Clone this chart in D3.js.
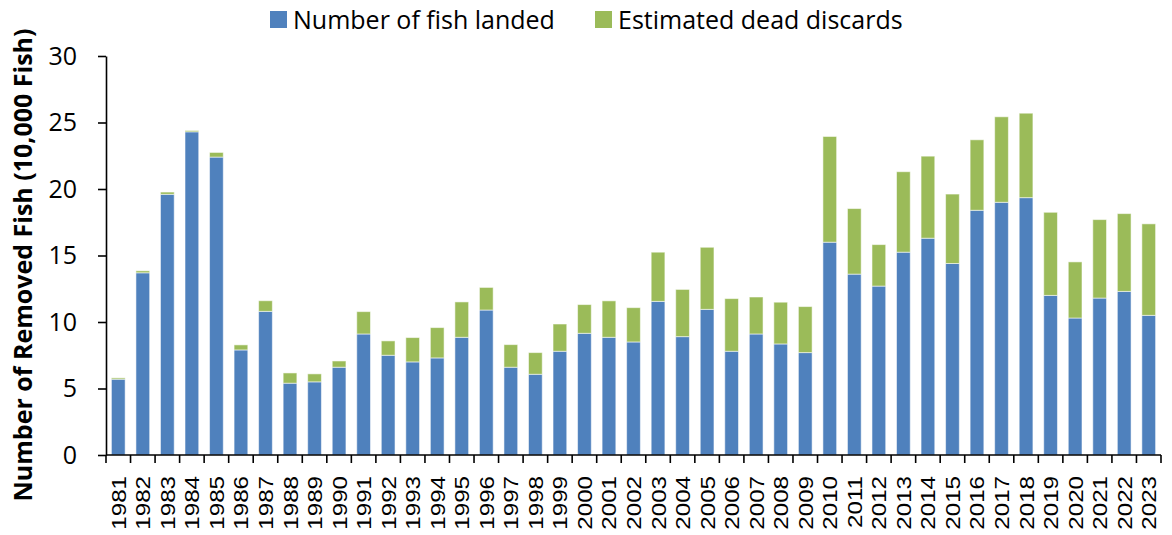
<!DOCTYPE html>
<html>
<head>
<meta charset="utf-8">
<script src="https://cdn.jsdelivr.net/npm/d3@7"></script>
<style>
  body { margin: 0; background: #fff; }
  svg { display: block; }
</style>
</head>
<body>
<div id="chart"></div>
<script>
// Years on the x axis
const years = d3.range(1981, 2024).map(String);

// Number of fish landed (10,000 fish)
const landed = [
  5.7, 13.7, 19.6, 24.3, 22.4, 7.9, 10.8, 5.4, 5.5, 6.6,
  9.1, 7.5, 7.0, 7.3, 8.85, 10.9, 6.6, 6.07, 7.8, 9.15,
  8.85, 8.5, 11.55, 8.9, 10.95, 7.8, 9.1, 8.35, 7.7, 16.0,
  13.6, 12.7, 15.25, 16.3, 14.4, 18.4, 19.0, 19.35, 12.0, 10.3,
  11.8, 12.3, 10.5
];

// Estimated dead discards (10,000 fish)
const discards = [
  0.1, 0.15, 0.17, 0.1, 0.35, 0.38, 0.8, 0.77, 0.6, 0.47,
  1.68, 1.08, 1.83, 2.28, 2.66, 1.7, 1.7, 1.63, 2.05, 2.16,
  2.74, 2.58, 3.7, 3.55, 4.67, 3.96, 2.78, 3.14, 3.46, 7.95,
  4.93, 3.12, 6.05, 6.17, 5.22, 5.3, 6.43, 6.35, 6.25, 4.22,
  5.9, 5.85, 6.88
];

const seriesNames = ["Number of fish landed", "Estimated dead discards"];
const seriesColors = ["#4f81bd", "#9bbb59"];
const yTicks = [0, 5, 10, 15, 20, 25, 30];

const width = 1172, height = 535;
const margin = { top: 56, right: 11, bottom: 80, left: 106 };

const svg = d3.select("#chart").append("svg")
  .attr("width", width)
  .attr("height", height);

const x = d3.scaleBand()
  .domain(years)
  .range([margin.left, width - margin.right])
  .paddingInner(0.44)
  .paddingOuter(0.22);

const y = d3.scaleLinear()
  .domain([0, 30])
  .range([height - margin.bottom, margin.top]);

// stack the two series
const rows = years.map((yr, i) => ({ year: yr, landed: landed[i], discards: discards[i] }));
const stack = d3.stack().keys(["landed", "discards"]);
const layers = stack(rows);

svg.append("g")
  .selectAll("g")
  .data(layers)
  .enter().append("g")
  .attr("fill", (d, i) => seriesColors[i])
  .selectAll("rect")
  .data(d => d)
  .enter().append("rect")
  .attr("x", d => x(d.data.year))
  .attr("y", d => y(d[1]))
  .attr("width", x.bandwidth())
  .attr("height", d => y(d[0]) - y(d[1]))
  .attr("stroke", "#ffffff")
  .attr("stroke-opacity", 0.55)
  .attr("stroke-width", 1);

// y axis
const yAxis = svg.append("g")
  .attr("transform", `translate(${margin.left},0)`)
  .call(d3.axisLeft(y).tickValues(yTicks).tickSize(8).tickSizeOuter(0).tickPadding(21));
yAxis.select(".domain").attr("stroke", "#000").attr("stroke-width", 1.6);
yAxis.selectAll(".tick line").attr("stroke", "#000").attr("stroke-width", 1.6);
yAxis.selectAll("text")
  .attr("font-family", "'Open Sans', sans-serif")
  .attr("font-size", 25)
  .attr("fill", "#000");

// x axis: baseline plus ticks at band boundaries
const x0 = height - margin.bottom;
const xAxis = svg.append("g");
xAxis.append("line")
  .attr("x1", margin.left).attr("x2", width - margin.right)
  .attr("y1", x0).attr("y2", x0)
  .attr("stroke", "#000").attr("stroke-width", 1.6);

const edges = years.map(yr => x(yr) - x.step() * x.paddingInner() / 2)
  .concat([x(years[years.length - 1]) + x.bandwidth() + x.step() * x.paddingInner() / 2]);
xAxis.selectAll(".xt")
  .data(edges)
  .enter().append("line")
  .attr("class", "xt")
  .attr("x1", d => d).attr("x2", d => d)
  .attr("y1", x0).attr("y2", x0 + 8)
  .attr("stroke", "#000").attr("stroke-width", 1.6);

// year labels, a bit stretched along their length like the original
xAxis.selectAll(".xl")
  .data(years)
  .enter().append("text")
  .attr("class", "xl")
  .attr("transform", d => `translate(${x(d) + x.bandwidth() / 2 + 7.5},${x0 + 21}) rotate(-90) scale(1.15,1)`)
  .attr("text-anchor", "end")
  .attr("font-family", "'Liberation Sans', Arial, sans-serif")
  .attr("font-size", 21)
  .text(d => d);

// y axis title
svg.append("text")
  .attr("transform", "translate(32,265) rotate(-90)")
  .attr("text-anchor", "middle")
  .attr("font-family", "'Open Sans', sans-serif")
  .attr("font-weight", "bold")
  .attr("font-size", 25)
  .text("Number of Removed Fish (10,000 Fish)");

// legend
const legendX = [270, 595];
const legend = svg.append("g");
seriesNames.forEach((name, i) => {
  legend.append("rect")
    .attr("x", legendX[i]).attr("y", 11)
    .attr("width", 17).attr("height", 17)
    .attr("fill", seriesColors[i]);
  legend.append("text")
    .attr("x", legendX[i] + 23).attr("y", 29)
    .attr("font-family", "'Open Sans', sans-serif")
    .attr("font-size", 25)
    .text(name);
});
</script>
</body>
</html>
